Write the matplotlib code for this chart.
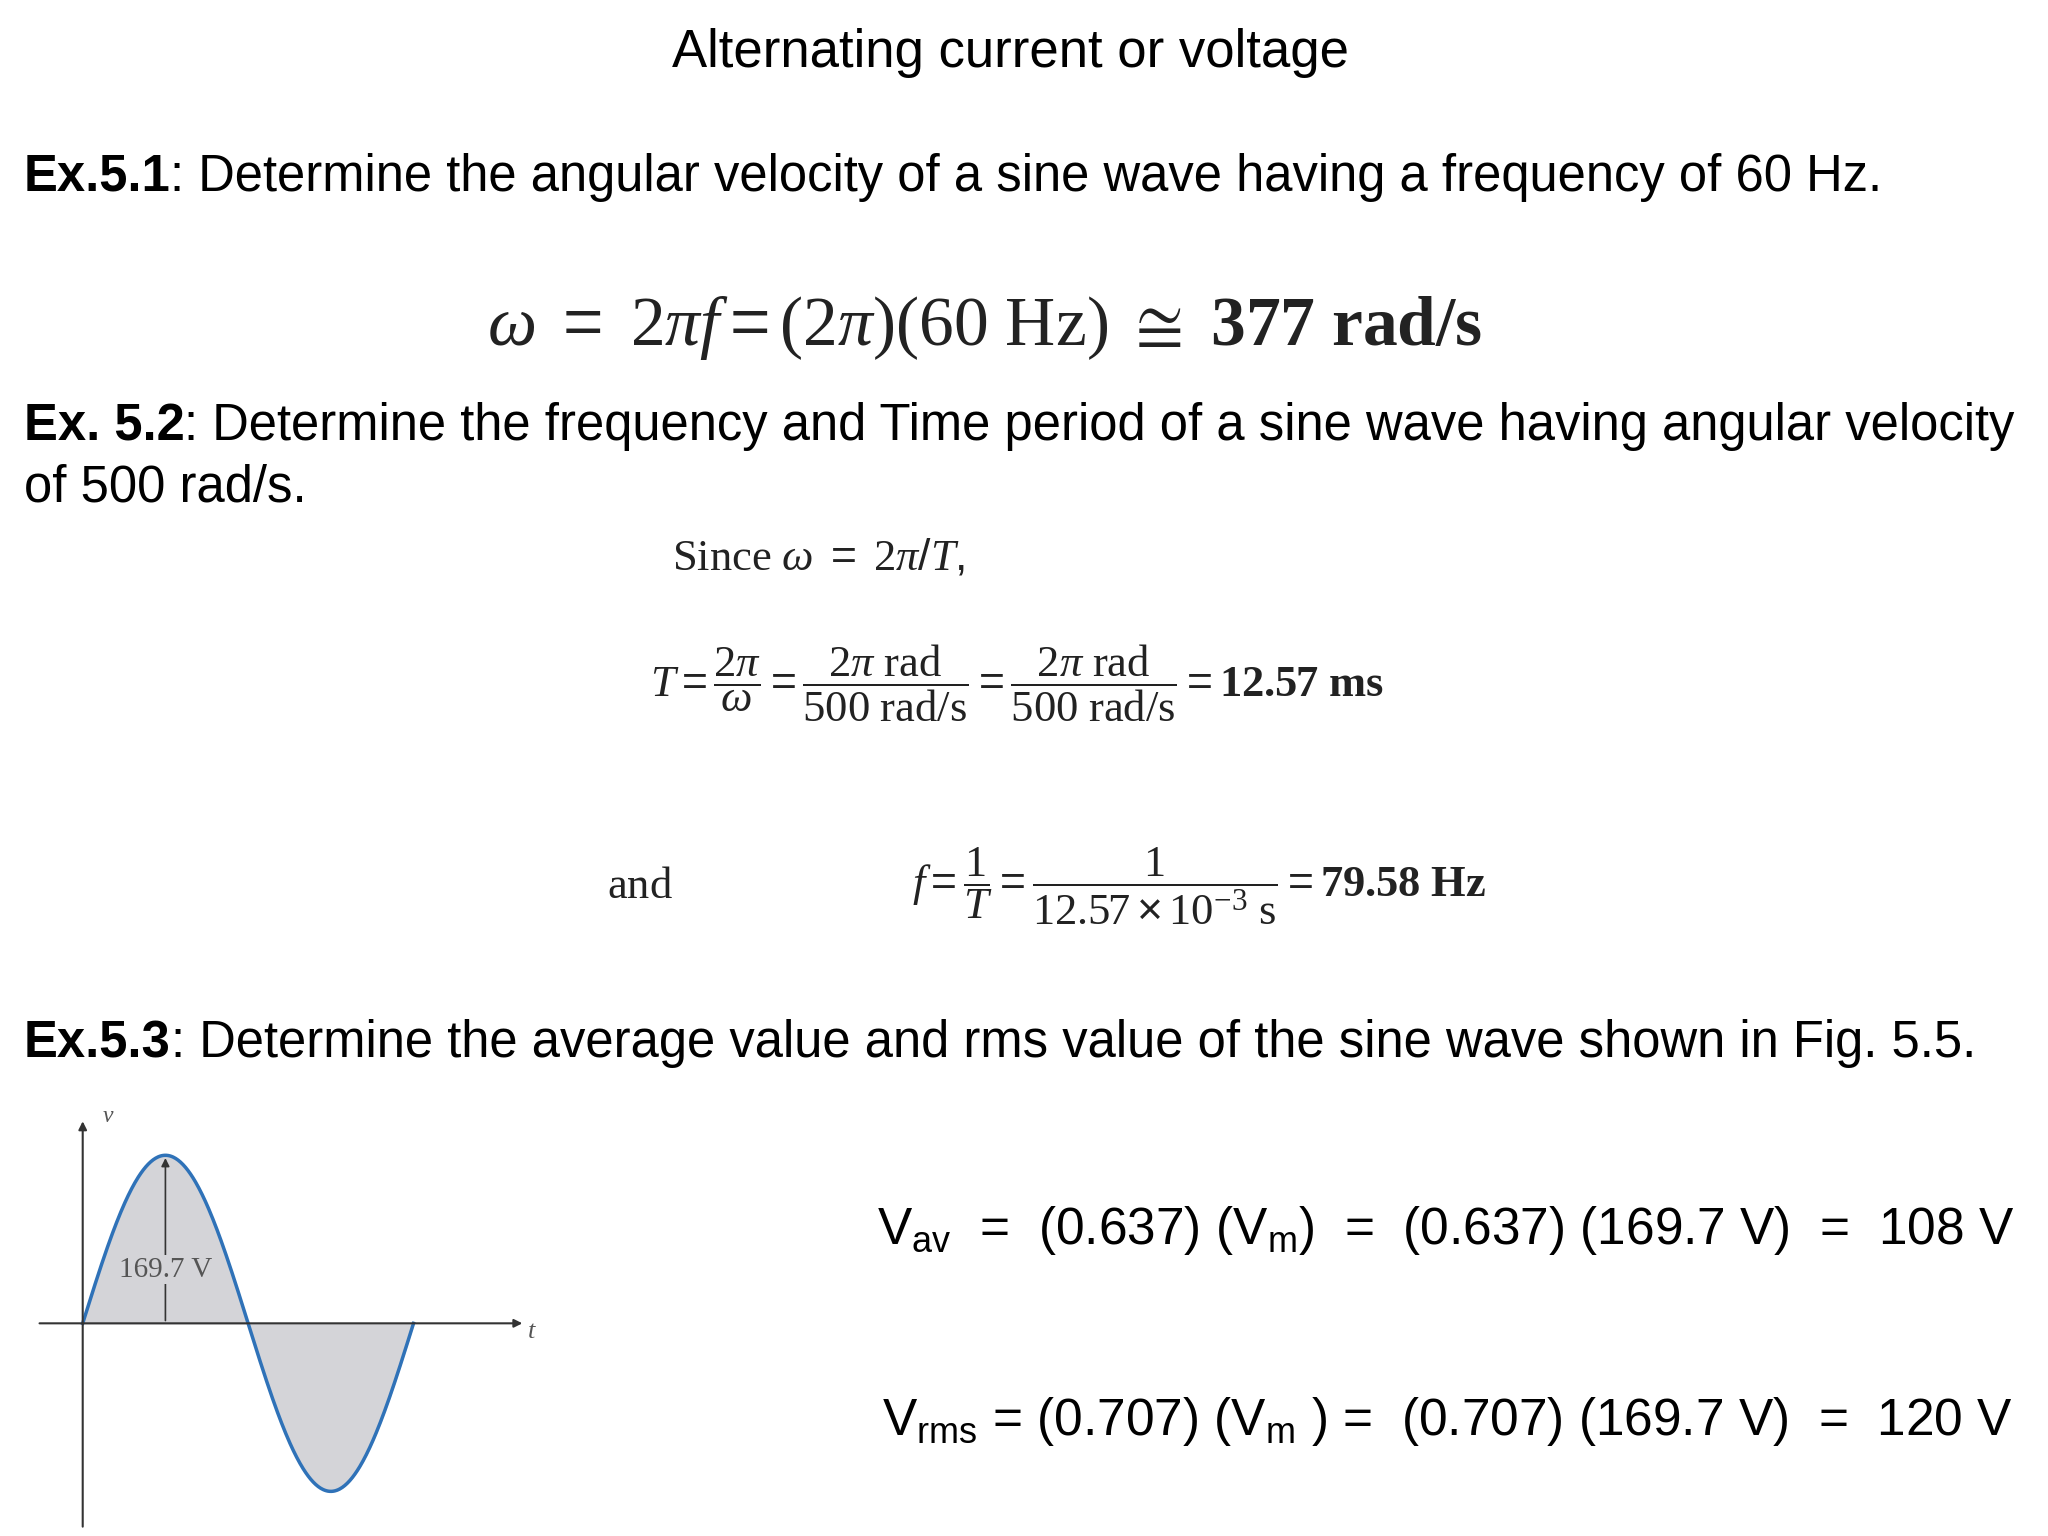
import numpy as np
import matplotlib
matplotlib.use('Agg')
from matplotlib import pyplot as plt

plt.rcParams['font.family'] = ['Liberation Sans', 'DejaVu Sans']
plt.rcParams['mathtext.fontset'] = 'custom'
plt.rcParams['mathtext.rm'] = 'Liberation Serif'
plt.rcParams['mathtext.it'] = 'Liberation Serif:italic'
plt.rcParams['mathtext.bf'] = 'Liberation Serif:bold'
plt.rcParams['mathtext.sf'] = 'Liberation Sans'
plt.rcParams['mathtext.default'] = 'regular'

# data
Vm = 169.7
cycle_deg = 360
W, H = 1560.0, 1170.0  # reference layout units

fig = plt.figure(figsize=(20.48, 15.36), dpi=100)
fig.patch.set_facecolor('white')
r = fig.canvas.get_renderer()


def fx(x):
    return x / W


def fy(y):
    return 1 - y / H


def put(x, y, s, **kw):
    return fig.text(fx(x), fy(y), s, va='center', **kw)


def bold_then(x, y, bold, rest, size=36.5):
    t = put(x, y, bold, fontsize=size, fontweight='bold')
    bb = t.get_window_extent(r)
    fig.text(bb.x1 / fig.bbox.width, fy(y), rest, va='center', fontsize=size)


put(770, 40, 'Alternating current or voltage', fontsize=38, ha='center')

bold_then(18, 135, 'Ex.5.1', ': Determine the angular velocity of a sine wave having a frequency of 60 Hz.')
put(750, 250, r'$\mathit{\omega}\ =\ \mathit{2\pi f} = \mathrm{(2}\mathit{\pi}\mathrm{)(60\ Hz)}\ \cong\ \mathbf{377\ rad/s}$',
    fontsize=50, ha='center', color='#222222')

bold_then(18, 325, 'Ex. 5.2', ': Determine the frequency and Time period of a sine wave having angular velocity')
put(18, 372, 'of 500 rad/s.', fontsize=36.5)
put(512, 425, r'$\mathrm{Since}\ \mathit{\omega}\ =\ \mathrm{2}\mathit{\pi}/\mathit{T},$', fontsize=32, color='#222222')
put(495, 520, r'$\mathit{T} = \dfrac{\mathrm{2}\mathit{\pi}}{\mathit{\omega}} = \dfrac{\mathrm{2}\mathit{\pi}\ \mathrm{rad}}{\mathrm{500\ rad/s}}'
    r' = \dfrac{\mathrm{2}\mathit{\pi}\ \mathrm{rad}}{\mathrm{500\ rad/s}} = \mathbf{12.57\ ms}$',
    fontsize=32, color='#222222')
put(462, 675, r'$\mathrm{and}$', fontsize=32, color='#222222')
put(695, 675, r'$\mathit{f} = \dfrac{\mathrm{1}}{\mathit{T}} = \dfrac{\mathrm{1}}{\mathrm{12.57}\times\mathrm{10^{-3}\ s}}'
    r' = \mathbf{79.58\ Hz}$', fontsize=32, color='#222222')

bold_then(18, 795, 'Ex.5.3', ': Determine the average value and rms value of the sine wave shown in Fig. 5.5.')
put(668, 937, r'V$_{av}$  =  (0.637) (V$_{m}$)  =  (0.637) (169.7 V)  =  108 V', fontsize=37)
put(672, 1083, r'V$_{rms}$ = (0.707) (V$_{m}$ ) =  (0.707) (169.7 V)  =  120 V', fontsize=37)

# sine wave figure
ax = fig.add_axes([fx(25), fy(1165), (410 - 25) / W, (1165 - 850) / H])
px = cycle_deg / 252.0
ax.set_xlim((25 - 63) * px, (410 - 63) * px)
ax.set_ylim(-(1165 - 1008) / 128 * Vm, (1008 - 850) / 128 * Vm)
ax.axis('off')
t = np.linspace(0, cycle_deg, 400)
v = Vm * np.sin(np.radians(t))
ax.fill_between(t, v, 0, color='#d4d4d8')
ax.plot(t, v, color='#2f72b8', lw=2.5)
ax.annotate('', xy=((400 - 63) * px, 0), xytext=((28 - 63) * px, 0),
            arrowprops=dict(arrowstyle='-|>', color='#333333', lw=1.5, mutation_scale=12))
ax.annotate('', xy=(0, (1008 - 852) / 128 * Vm), xytext=(0, -(1165 - 1008) / 128 * Vm),
            arrowprops=dict(arrowstyle='-|>', color='#333333', lw=1.5, mutation_scale=12))
ax.annotate('', xy=(90, Vm), xytext=(90, 0),
            arrowprops=dict(arrowstyle='-|>', color='#333333', lw=1.2, mutation_scale=12))
ax.text(90, Vm * 0.32, '169.7 V', ha='center', va='center', fontsize=21,
        family='Liberation Serif', color='#555555',
        bbox=dict(facecolor='#d4d4d8', edgecolor='none', pad=1))
ax.text(22, 1.2 * Vm, 'v', fontsize=17, style='italic', family='Liberation Serif', color='#555555')
ax.text((402 - 63) * px, -0.09 * Vm, 't', fontsize=19, style='italic', family='Liberation Serif', color='#555555')

fig.savefig('out.png', dpi=100)
